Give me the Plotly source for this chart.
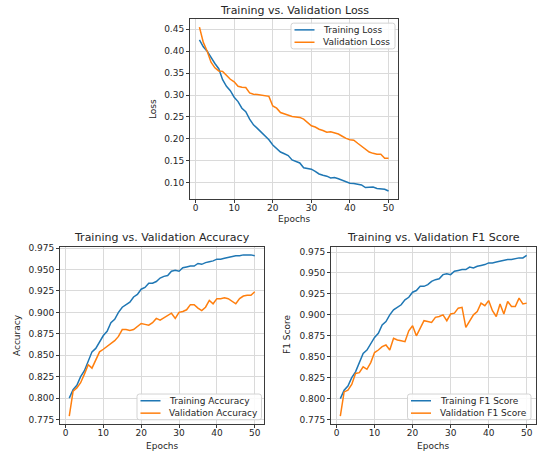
import plotly.graph_objects as go

W, H = 546, 452

epochs = list(range(1, 51))

train_loss = [0.426, 0.410, 0.400, 0.385, 0.372, 0.360, 0.335, 0.320, 0.310, 0.295,
              0.285, 0.270, 0.262, 0.245, 0.232, 0.224, 0.216, 0.208, 0.198, 0.186,
              0.178, 0.170, 0.166, 0.162, 0.152, 0.149, 0.145, 0.134, 0.132, 0.131,
              0.126, 0.120, 0.117, 0.115, 0.111, 0.112, 0.109, 0.106, 0.103, 0.099,
              0.098, 0.096, 0.095, 0.089, 0.089, 0.090, 0.087, 0.086, 0.085, 0.081]
val_loss = [0.455, 0.420, 0.400, 0.375, 0.362, 0.355, 0.354, 0.345, 0.336, 0.330,
            0.320, 0.318, 0.317, 0.305, 0.302, 0.301, 0.300, 0.299, 0.297, 0.275,
            0.270, 0.260, 0.257, 0.253, 0.251, 0.250, 0.249, 0.245, 0.238, 0.230,
            0.227, 0.222, 0.219, 0.215, 0.216, 0.214, 0.211, 0.206, 0.201, 0.198,
            0.197, 0.190, 0.183, 0.176, 0.170, 0.167, 0.165, 0.165, 0.156, 0.156]

train_acc = [0.800, 0.810, 0.815, 0.825, 0.832, 0.842, 0.854, 0.858, 0.866, 0.873,
             0.878, 0.888, 0.892, 0.900, 0.906, 0.909, 0.912, 0.918, 0.921, 0.927,
             0.929, 0.934, 0.934, 0.936, 0.940, 0.942, 0.943, 0.948, 0.949, 0.948,
             0.952, 0.953, 0.954, 0.954, 0.957, 0.956, 0.958, 0.959, 0.960, 0.962,
             0.962, 0.963, 0.964, 0.965, 0.966, 0.966, 0.967, 0.967, 0.967, 0.966]
val_acc = [0.779, 0.808, 0.812, 0.818, 0.828, 0.839, 0.835, 0.845, 0.854, 0.857,
           0.860, 0.864, 0.867, 0.872, 0.880, 0.880, 0.879, 0.880, 0.883, 0.887,
           0.886, 0.885, 0.888, 0.893, 0.891, 0.894, 0.897, 0.899, 0.893, 0.900,
           0.901, 0.903, 0.909, 0.909, 0.905, 0.902, 0.906, 0.914, 0.910, 0.916,
           0.916, 0.917, 0.916, 0.913, 0.910, 0.916, 0.919, 0.920, 0.920, 0.924]

train_f1 = [0.800, 0.810, 0.815, 0.825, 0.832, 0.842, 0.854, 0.858, 0.866, 0.873,
            0.878, 0.888, 0.892, 0.900, 0.906, 0.909, 0.912, 0.918, 0.921, 0.927,
            0.929, 0.934, 0.934, 0.936, 0.940, 0.942, 0.943, 0.948, 0.949, 0.948,
            0.952, 0.953, 0.954, 0.954, 0.957, 0.956, 0.958, 0.959, 0.960, 0.962,
            0.962, 0.963, 0.964, 0.965, 0.966, 0.966, 0.967, 0.968, 0.968, 0.971]
val_f1 = [0.779, 0.808, 0.810, 0.817, 0.830, 0.831, 0.838, 0.835, 0.843, 0.855,
          0.858, 0.862, 0.864, 0.858, 0.872, 0.870, 0.869, 0.868, 0.881, 0.887,
          0.875, 0.885, 0.893, 0.892, 0.891, 0.897, 0.898, 0.900, 0.893, 0.901,
          0.902, 0.908, 0.909, 0.885, 0.893, 0.900, 0.904, 0.914, 0.911, 0.917,
          0.905, 0.898, 0.913, 0.901, 0.916, 0.910, 0.910, 0.920, 0.913, 0.914]

loss_ticks = [0.10, 0.15, 0.20, 0.25, 0.30, 0.35, 0.40, 0.45]
score_ticks = [0.775, 0.800, 0.825, 0.850, 0.875, 0.900, 0.925, 0.950, 0.975]
epoch_ticks = [0, 10, 20, 30, 40, 50]

BLUE = "#1f77b4"
ORANGE = "#ff7f0e"
TXT = "#262626"
FONT = "DejaVu Sans"


def px_x(p):
    return p / W


def px_y(p):
    return 1 - p / H


def mpl_range(vals):
    lo, hi = min(vals), max(vals)
    m = (hi - lo) * 0.05
    return [lo - m, hi + m]


fig = go.Figure()

panels = [
    ("x", "y", train_loss, val_loss, "Training Loss", "Validation Loss"),
    ("x2", "y2", train_acc, val_acc, "Training Accuracy", "Validation Accuracy"),
    ("x3", "y3", train_f1, val_f1, "Training F1 Score", "Validation F1 Score"),
]
for xa, ya, tr, va, n1, n2 in panels:
    fig.add_trace(go.Scatter(x=epochs, y=tr, mode="lines", name=n1,
                             line=dict(color=BLUE, width=1.5),
                             xaxis=xa, yaxis=ya, showlegend=False))
    fig.add_trace(go.Scatter(x=epochs, y=va, mode="lines", name=n2,
                             line=dict(color=ORANGE, width=1.5),
                             xaxis=xa, yaxis=ya, showlegend=False))

axis_common = dict(
    showline=True, mirror=True, linecolor="#3a3a3a", linewidth=1,
    showgrid=True, gridcolor="#dadada", gridwidth=1, zeroline=False,
    ticks="outside", ticklen=3, tickcolor="#3a3a3a", tickwidth=1,
    tickfont=dict(family=FONT, size=9, color=TXT),
)

xr = mpl_range(epochs)

# frames in pixels: (left, right, top, bottom)
frames = {
    "1": (190, 398, 15, 197),
    "2": (60, 264, 245, 424),
    "3": (331, 536, 245.5, 424),
}

layout = dict(
    width=W, height=H,
    margin=dict(l=0, r=0, t=0, b=0),
    paper_bgcolor="white", plot_bgcolor="white",
    font=dict(family=FONT, size=9, color=TXT),
    showlegend=False,
)

yranges = {
    "1": mpl_range(train_loss + val_loss),
    "2": mpl_range(train_acc + val_acc),
    "3": mpl_range(train_f1 + val_f1),
}
yticks = {"1": (loss_ticks, ".2f"), "2": (score_ticks, ".3f"), "3": (score_ticks, ".3f")}

for k, (l, r, t, b) in frames.items():
    sx = "xaxis" if k == "1" else "xaxis" + k
    sy = "yaxis" if k == "1" else "yaxis" + k
    anchor_x = "x" if k == "1" else "x" + k
    anchor_y = "y" if k == "1" else "y" + k
    layout[sx] = dict(axis_common, domain=[px_x(l), px_x(r)], range=xr,
                      tickvals=epoch_ticks, anchor=anchor_y, ticklabelstandoff=-3)
    tv, fmt = yticks[k]
    layout[sy] = dict(axis_common, domain=[px_y(b), px_y(t)], range=yranges[k],
                      tickvals=tv, tickformat=fmt, anchor=anchor_x)

fig.update_layout(**layout)

titles = [
    ("Training vs. Validation Loss", 294, 7),
    ("Training vs. Validation Accuracy", 162, 236),
    ("Training vs. Validation F1 Score", 433, 236),
]
for txt, x, y in titles:
    fig.add_annotation(text=txt, x=px_x(x), y=px_y(y), xref="paper", yref="paper",
                       showarrow=False, xanchor="center", yanchor="middle",
                       font=dict(family=FONT, size=11, color=TXT))

axis_labels = [
    ("Epochs", 294, 216.5, 0),
    ("Epochs", 162, 445.5, 0),
    ("Epochs", 433, 445.5, 0),
    ("Loss", 153, 106, -90),
    ("Accuracy", 17, 334, -90),
    ("F1 Score", 287, 334, -90),
]
for txt, x, y, ang in axis_labels:
    fig.add_annotation(text=txt, x=px_x(x), y=px_y(y), xref="paper", yref="paper",
                       showarrow=False, xanchor="center", yanchor="middle",
                       textangle=ang, font=dict(family=FONT, size=9, color=TXT))


# matplotlib-style legend boxes (pixel geometry)
def add_legend(left, top, right, names):
    bottom = top + 26
    r = 2.5
    path = (f"M {px_x(left + r)},{px_y(top)} L {px_x(right - r)},{px_y(top)} "
            f"Q {px_x(right)},{px_y(top)} {px_x(right)},{px_y(top + r)} "
            f"L {px_x(right)},{px_y(bottom - r)} "
            f"Q {px_x(right)},{px_y(bottom)} {px_x(right - r)},{px_y(bottom)} "
            f"L {px_x(left + r)},{px_y(bottom)} "
            f"Q {px_x(left)},{px_y(bottom)} {px_x(left)},{px_y(bottom - r)} "
            f"L {px_x(left)},{px_y(top + r)} "
            f"Q {px_x(left)},{px_y(top)} {px_x(left + r)},{px_y(top)} Z")
    fig.add_shape(type="path", path=path, xref="paper", yref="paper",
                  fillcolor="rgba(255,255,255,0.85)", line=dict(color="#d3d3d3", width=1),
                  layer="above")
    for i, (name, color) in enumerate(names):
        yy = top + 6.8 + i * 12.5
        fig.add_shape(type="line", xref="paper", yref="paper",
                      x0=px_x(left + 3.5), x1=px_x(left + 23.5),
                      y0=px_y(yy), y1=px_y(yy),
                      line=dict(color=color, width=1.5), layer="above")
        fig.add_annotation(text=name, x=px_x(left + 30), y=px_y(yy),
                           xref="paper", yref="paper", showarrow=False,
                           xanchor="left", yanchor="middle",
                           font=dict(family=FONT, size=9, color=TXT))


add_legend(291, 19.3, 395, [("Training Loss", BLUE), ("Validation Loss", ORANGE)])
add_legend(137, 393.5, 261.5, [("Training Accuracy", BLUE), ("Validation Accuracy", ORANGE)])
add_legend(407.5, 393.5, 531, [("Training F1 Score", BLUE), ("Validation F1 Score", ORANGE)])

fig.write_html("out.html", post_script="document.body.style.margin='0px';",
               config={"displayModeBar": False})
